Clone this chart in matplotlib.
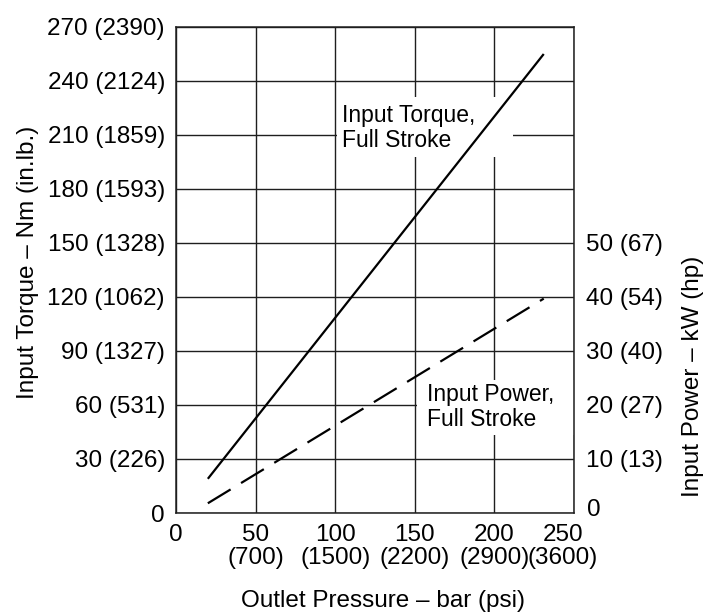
import matplotlib
matplotlib.use("Agg")
import matplotlib.pyplot as plt
from matplotlib.patches import Rectangle
import matplotlib.transforms as mtrans

plt.rcParams['font.family'] = ['Liberation Sans', 'DejaVu Sans']

# ---- data ----
pressure_bar = [20, 231]
torque_nm = [19, 255]
power_kw = [1.8, 39.7]

x_ticks = [0, 50, 100, 150, 200, 250]
x_tick_labels = ["0", "50\n(700)", "100\n(1500)", "150\n(2200)", "200\n(2900)", "250\n(3600)"]
y_ticks = [0, 30, 60, 90, 120, 150, 180, 210, 240, 270]
y_tick_labels = ["0", "30 (226)", "60 (531)", "90 (1327)", "120 (1062)", "150 (1328)",
                 "180 (1593)", "210 (1859)", "240 (2124)", "270 (2390)"]
y2_ticks = [0, 10, 20, 30, 40, 50]
y2_tick_labels = ["0", "10 (13)", "20 (27)", "30 (40)", "40 (54)", "50 (67)"]

FS = 17.5
GRID_C = '#1e1e1e'

fig = plt.figure(figsize=(7.21, 6.14), dpi=100)
ax = fig.add_axes([176/721, 101/614, 398/721, 486/614])
ax.set_xlim(0, 250)
ax.set_ylim(0, 270)
ax.set_xticks(x_ticks)
ax.set_xticklabels(x_tick_labels, fontsize=FS, linespacing=1.05)
ax.set_yticks(y_ticks)
ax.set_yticklabels(y_tick_labels, fontsize=FS)
ax.tick_params(axis='both', length=0)
ax.tick_params(axis='y', pad=8)
ax.tick_params(axis='x', pad=8)
ax.set_axisbelow(True)
ax.grid(True, color=GRID_C, linewidth=1.0)
for s in ax.spines.values():
    s.set_color(GRID_C)
    s.set_linewidth(1.1)

# last x label sits a little left of its tick
lx = ax.get_xticklabels()[-1]
lx.set_transform(lx.get_transform() + mtrans.ScaledTranslation(-11/100, 0, fig.dpi_scale_trans))

# white backgrounds behind the curve labels (hide grid there)
ax.add_patch(Rectangle((101, 198), 110.5, 33, facecolor='white', edgecolor='none', zorder=1))
ax.add_patch(Rectangle((151.5, 43.5), 98.5, 30.5, facecolor='white', edgecolor='none', zorder=1))

ax.plot(pressure_bar, torque_nm, color='black', linewidth=1.6, zorder=4,
        solid_capstyle='butt')

ax.text(104.3, 227, "Input Torque,\nFull Stroke", fontsize=16.5, ha='left', va='top',
        linespacing=1.1, zorder=3)
ax.text(157.7, 72, "Input Power,\nFull Stroke", fontsize=16.5, ha='left', va='top',
        linespacing=1.1, zorder=3)

ax.set_xlabel("Outlet Pressure – bar (psi)", fontsize=FS)
ax.xaxis.set_label_coords(0.52, -0.182)
ax.xaxis.label.set_va('center')
ax.set_ylabel("Input Torque – Nm (in.lb.)", fontsize=FS)
ax.yaxis.label.set(va='center', ha='center')
ax.yaxis.set_label_coords(-0.372, 0.516)

ax2 = ax.twinx()
ax2.set_ylim(0, 90)
ax2.set_yticks(y2_ticks)
ax2.set_yticklabels(y2_tick_labels, fontsize=FS)
ax2.tick_params(axis='y', length=0, pad=9)
for s in ax2.spines.values():
    s.set_visible(False)
ax2.plot(pressure_bar, power_kw, color='black', linewidth=1.6, dashes=(12, 5.5),
         dash_capstyle='butt', zorder=4)
ax2.set_ylabel("Input Power – kW (hp)", fontsize=FS)
ax2.yaxis.label.set(va='center', ha='center')
ax2.yaxis.set_label_coords(1.30, 0.282)

# nudge the right-hand "0" up so it clears the last x label
lbl0 = ax2.get_yticklabels()[0]
lbl0.set_transform(lbl0.get_transform() + mtrans.ScaledTranslation(0, 5/100, fig.dpi_scale_trans))

fig.savefig("out.png", dpi=100)
